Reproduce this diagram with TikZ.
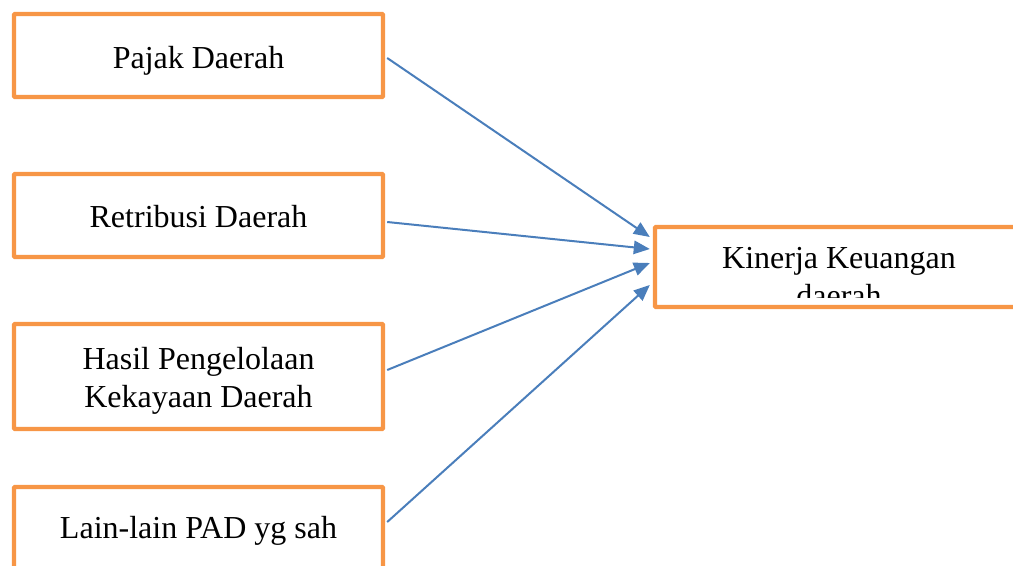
\documentclass[tikz,border=0pt]{standalone}
\usepackage{fontspec}
\setmainfont{Liberation Serif}
\usetikzlibrary{arrows.meta,calc}
\definecolor{boxorange}{HTML}{F79646}
\definecolor{arrowblue}{HTML}{4A7EBB}
\tikzset{
  box/.style={draw=boxorange, line width=3.3pt, rounded corners=0.8pt, fill=white, inner sep=0pt, shape=rectangle},
  lbl/.style={anchor=base, inner sep=0pt, font=\fontsize{24}{28.5}\selectfont},
  conn/.style={draw=arrowblue, line width=1.5pt, -{Triangle[length=12pt,width=10pt]}}
}
\begin{document}
\begin{tikzpicture}[x=0.75pt,y=-0.75pt]
\useasboundingbox (0,0) rectangle (1013,565);
% left boxes
\node[box, minimum width=276.75pt, minimum height=62.25pt] (b1) at (198.5,55.5) {};
\node[box, minimum width=276.75pt, minimum height=62.25pt] (b2) at (198.5,215.5) {};
\node[box, minimum width=276.75pt, minimum height=78.75pt] (b3) at (198.5,376.5) {};
\node[box, minimum width=276.75pt, minimum height=62.25pt] (b4) at (198.5,528.5) {};
% right box
\node[box, minimum width=281.25pt, minimum height=60pt] (k) at (842.5,267) {};
% texts
\node[lbl] (t1) at (198.5,68) {Pajak Daerah};
\node[lbl] (t2) at (198.5,227) {Retribusi Daerah};
\node[lbl] (t3a) at (198.5,369) {Hasil Pengelolaan};
\node[lbl] (t3b) at (198.5,407) {Kekayaan Daerah};
\node[lbl] (t4) at (198.5,538) {Lain-lain PAD yg sah};
\begin{scope}
\clip (657,229) rectangle (1013,297);
\node[lbl] (tk1) at (839,268) {Kinerja Keuangan};
\node[lbl] (tk2) at (839,306) {daerah};
\end{scope}
% connectors
\draw[conn] ($(b1.east)+(2,2.5)$) -- ($(k.west)+(-3,-30)$);
\draw[conn] ($(b2.east)+(2,6.5)$) -- ($(k.west)+(-3,-18)$);
\draw[conn] ($(b3.east)+(2,-6.5)$) -- ($(k.west)+(-3,-4)$);
\draw[conn] ($(b4.east)+(2,-6.5)$) -- ($(k.west)+(-3,18)$);
\end{tikzpicture}
\end{document}
